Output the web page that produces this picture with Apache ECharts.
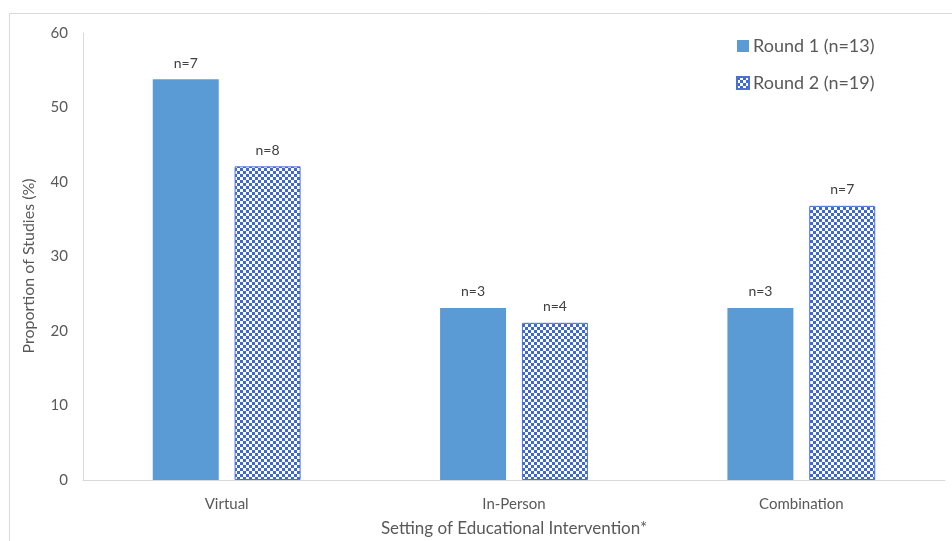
<!DOCTYPE html>
<html>
<head>
<meta charset="utf-8">
<script src="https://cdn.jsdelivr.net/npm/echarts@6/dist/echarts.min.js"></script>
<style>
  html, body { margin: 0; padding: 0; background: #fff; }
  #chart { width: 952px; height: 541px; }
</style>
</head>
<body>
<div id="chart"></div>
<script>
// Settings of educational intervention
const categories = ['Virtual', 'In-Person', 'Combination'];
// Proportion of studies (%) per round
const round1Values = [53.8, 23.1, 23.1];
const round2Values = [42.1, 21.1, 36.8];
// Study counts shown above the bars
const round1Counts = [7, 3, 3];
const round2Counts = [8, 4, 7];
const seriesNames = ['Round 1 (n=13)', 'Round 2 (n=19)'];
const yTicks = { min: 0, max: 60, interval: 10 };

// Small checkerboard tile for the second round's bars
function checkerTile(cell, color) {
  const c = document.createElement('canvas');
  c.width = cell * 2;
  c.height = cell * 2;
  const ctx = c.getContext('2d');
  ctx.fillStyle = '#ffffff';
  ctx.fillRect(0, 0, c.width, c.height);
  ctx.fillStyle = color;
  ctx.fillRect(0, 0, cell, cell);
  ctx.fillRect(cell, cell, cell, cell);
  return c;
}

const font = 'Lato, "Open Sans", "Liberation Sans", sans-serif';
const textGrey = '#595959';
const chart = echarts.init(document.getElementById('chart'), null, { renderer: 'canvas' });

chart.setOption({
  backgroundColor: '#ffffff',
  animation: false,
  textStyle: { fontFamily: font },
  graphic: [
    {
      type: 'rect',
      shape: { x: 9.5, y: 13.5, width: 960, height: 560 },
      style: { fill: 'none', stroke: '#d9d9d9', lineWidth: 1 },
      silent: true,
      z: -1
    },
    {
      // vertical axis title
      type: 'text',
      x: 29,
      y: 266,
      rotation: Math.PI / 2,
      style: {
        text: 'Proportion of Studies (%)',
        fontSize: 16,
        fontFamily: font,
        fill: textGrey,
        align: 'center',
        verticalAlign: 'middle'
      },
      silent: true
    }
  ],
  legend: {
    orient: 'vertical',
    left: 731,
    top: 32,
    itemWidth: 12,
    itemHeight: 12,
    itemGap: 19,
    icon: 'rect',
    textStyle: { fontSize: 18, color: textGrey, fontFamily: font, padding: [0, 0, 0, -1] },
    data: seriesNames
  },
  grid: { left: 83, right: 7, top: 33, bottom: 61, outerBoundsMode: 'none', containLabel: false },
  xAxis: {
    type: 'category',
    data: categories,
    name: 'Setting of Educational Intervention*',
    nameLocation: 'middle',
    nameGap: 40,
    nameTextStyle: { fontSize: 17, color: textGrey },
    axisLine: { lineStyle: { color: '#d9d9d9', width: 1 } },
    axisTick: { show: false },
    axisLabel: { fontSize: 15, color: textGrey, margin: 17 }
  },
  yAxis: {
    type: 'value',
    min: yTicks.min,
    max: yTicks.max,
    interval: yTicks.interval,
    axisLine: { show: true, lineStyle: { color: '#d9d9d9', width: 1 } },
    axisTick: { show: false },
    splitLine: { show: false },
    axisLabel: { fontSize: 15, color: textGrey, margin: 15 }
  },
  series: [
    {
      name: seriesNames[0],
      type: 'bar',
      data: round1Values,
      barWidth: 66,
      barGap: '24%',
      itemStyle: { color: '#5b9bd5' },
      label: {
        show: true,
        position: 'top',
        distance: 9,
        fontSize: 14,
        color: '#404040',
        formatter: p => 'n=' + round1Counts[p.dataIndex]
      }
    },
    {
      name: seriesNames[1],
      type: 'bar',
      data: round2Values,
      barWidth: 66,
      itemStyle: {
        color: { image: checkerTile(3, '#3d67d2'), repeat: 'repeat' },
        borderColor: '#4a72d4',
        borderWidth: 1
      },
      label: {
        show: true,
        position: 'top',
        distance: 9,
        fontSize: 14,
        color: '#404040',
        formatter: p => 'n=' + round2Counts[p.dataIndex]
      }
    }
  ]
});
</script>
</body>
</html>
